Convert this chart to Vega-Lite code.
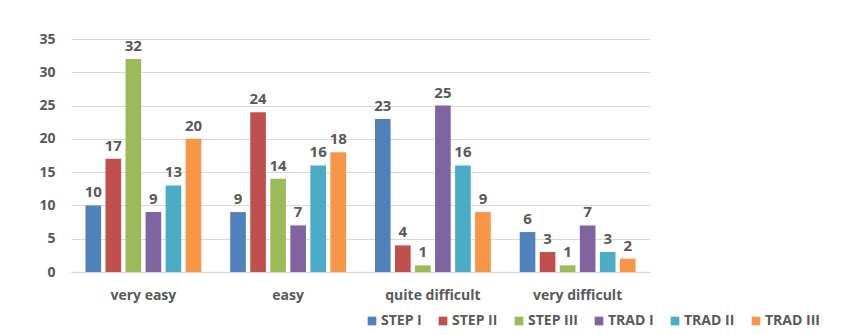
{
  "$schema": "https://vega.github.io/schema/vega-lite/v6.json",
  "width": 579,
  "height": 233,
  "autosize": {"type": "none"},
  "padding": {"left": 71, "top": 39, "right": 205, "bottom": 63},
  "background": "white",
  "data": {
    "values": [
      {"level": "very easy", "group": "STEP I", "n": 10},
      {"level": "very easy", "group": "STEP II", "n": 17},
      {"level": "very easy", "group": "STEP III", "n": 32},
      {"level": "very easy", "group": "TRAD I", "n": 9},
      {"level": "very easy", "group": "TRAD II", "n": 13},
      {"level": "very easy", "group": "TRAD III", "n": 20},
      {"level": "easy", "group": "STEP I", "n": 9},
      {"level": "easy", "group": "STEP II", "n": 24},
      {"level": "easy", "group": "STEP III", "n": 14},
      {"level": "easy", "group": "TRAD I", "n": 7},
      {"level": "easy", "group": "TRAD II", "n": 16},
      {"level": "easy", "group": "TRAD III", "n": 18},
      {"level": "quite difficult", "group": "STEP I", "n": 23},
      {"level": "quite difficult", "group": "STEP II", "n": 4},
      {"level": "quite difficult", "group": "STEP III", "n": 1},
      {"level": "quite difficult", "group": "TRAD I", "n": 25},
      {"level": "quite difficult", "group": "TRAD II", "n": 16},
      {"level": "quite difficult", "group": "TRAD III", "n": 9},
      {"level": "very difficult", "group": "STEP I", "n": 6},
      {"level": "very difficult", "group": "STEP II", "n": 3},
      {"level": "very difficult", "group": "STEP III", "n": 1},
      {"level": "very difficult", "group": "TRAD I", "n": 7},
      {"level": "very difficult", "group": "TRAD II", "n": 3},
      {"level": "very difficult", "group": "TRAD III", "n": 2}
    ]
  },
  "encoding": {
    "x": {
      "field": "level", "type": "nominal",
      "sort": ["very easy", "easy", "quite difficult", "very difficult"],
      "scale": {"paddingInner": 0.2, "paddingOuter": 0.1},
      "axis": {"title": null, "labelAngle": 0, "ticks": false, "domainColor": "#D9D9D9", "domainWidth": 1.5, "labelPadding": 16, "labelFontSize": 14, "labelFontWeight": "bold", "labelColor": "#595959", "labelFont": "Open Sans"}
    },
    "xOffset": {
      "field": "group", "type": "nominal",
      "sort": ["STEP I", "STEP II", "STEP III", "TRAD I", "TRAD II", "TRAD III"],
      "scale": {"paddingInner": 0.22, "paddingOuter": 0}
    },
    "y": {
      "field": "n", "type": "quantitative",
      "scale": {"domain": [0, 35]},
      "axis": {"title": null, "values": [0, 5, 10, 15, 20, 25, 30, 35], "domain": false, "ticks": false, "labelPadding": 16, "gridColor": "#D9D9D9", "labelFontSize": 14, "labelFontWeight": "bold", "labelColor": "#595959", "labelFont": "Open Sans"}
    }
  },
  "layer": [
    {
      "mark": {"type": "bar"},
      "encoding": {
        "color": {
          "field": "group", "type": "nominal",
          "sort": ["STEP I", "STEP II", "STEP III", "TRAD I", "TRAD II", "TRAD III"],
          "scale": {"domain": ["STEP I", "STEP II", "STEP III", "TRAD I", "TRAD II", "TRAD III"], "range": ["#4F81BD", "#C0504D", "#9BBB59", "#8064A2", "#4BACC6", "#F79646"]},
          "legend": {"title": null, "orient": "none", "direction": "horizontal", "legendX": 294, "legendY": 275, "symbolType": "square", "symbolSize": 75, "symbolStrokeWidth": 0, "symbolOpacity": 1, "labelFontSize": 14, "labelFontWeight": "bold", "labelColor": "#595959", "labelFont": "Open Sans", "columnPadding": 14, "labelOffset": 2}
        }
      }
    },
    {
      "mark": {"type": "text", "baseline": "bottom", "dy": -5, "fontSize": 15, "fontWeight": "bold", "color": "#595959", "font": "Open Sans"},
      "encoding": {"text": {"field": "n", "type": "quantitative"}}
    }
  ],
  "config": {"view": {"stroke": null}}
}
